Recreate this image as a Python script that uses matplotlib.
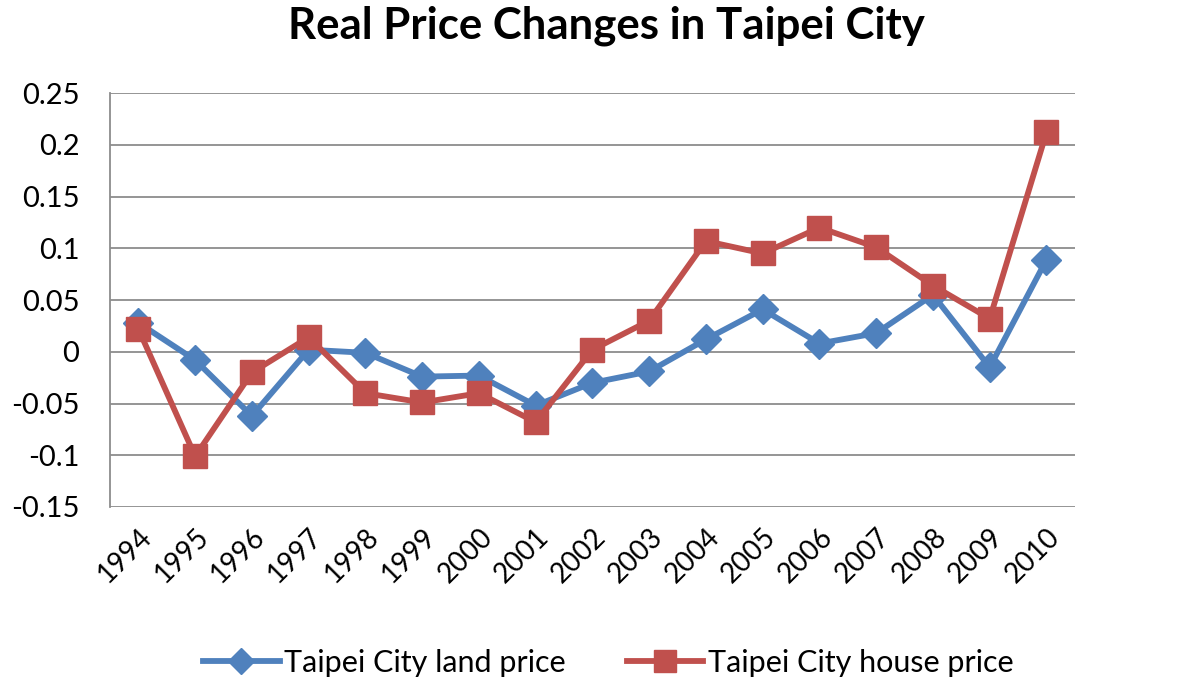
import matplotlib
matplotlib.use("Agg")
import matplotlib.pyplot as plt
from matplotlib.lines import Line2D

years = ["1994", "1995", "1996", "1997", "1998", "1999", "2000", "2001", "2002",
         "2003", "2004", "2005", "2006", "2007", "2008", "2009", "2010"]
land_price = [0.028, -0.008, -0.062, 0.002, -0.001, -0.024, -0.023, -0.052, -0.030,
              -0.019, 0.012, 0.041, 0.008, 0.018, 0.055, -0.015, 0.089]
house_price = [0.022, -0.101, -0.020, 0.014, -0.040, -0.049, -0.040, -0.068, 0.002,
               0.030, 0.107, 0.095, 0.120, 0.101, 0.064, 0.032, 0.212]
y_ticks = [-0.15, -0.1, -0.05, 0, 0.05, 0.1, 0.15, 0.2, 0.25]
y_labels = ["-0.15", "-0.1", "-0.05", "0", "0.05", "0.1", "0.15", "0.2", "0.25"]

plt.rcParams['font.family'] = ['Lato', 'DejaVu Sans']

fig = plt.figure(figsize=(12, 6.83), dpi=100)
ax = fig.add_axes([0.0917, 0.2577, 0.804, 0.606])

blue = "#4F81BD"
red = "#C0504D"
x = list(range(len(years)))

ax.plot(x, land_price, color=blue, lw=4.2, marker="D", ms=15, mec=blue, mfc=blue,
        label="Taipei City land price", zorder=3)
ax.plot(x, house_price, color=red, lw=4.2, marker="s", ms=17.5, mec=red, mfc=red,
        label="Taipei City house price", zorder=4)

ax.set_xlim(-0.5, len(years) - 0.5)
ax.set_ylim(-0.15, 0.25)
ax.set_yticks(y_ticks)
ax.set_yticklabels(y_labels, fontsize=21)
ax.set_xticks(x)
ax.set_xticklabels(years, rotation=45, ha="right", rotation_mode="anchor", fontsize=20)
ax.tick_params(axis="y", length=0, pad=22)
ax.tick_params(axis="x", length=0, pad=12)

ax.grid(axis="y", color="#8C8C8C", lw=1.3)
ax.set_axisbelow(True)
for s in ["top", "right", "bottom"]:
    ax.spines[s].set_visible(False)
ax.spines["left"].set_color("#8C8C8C")
ax.spines["left"].set_linewidth(1.3)

fig.text(0.505, 0.962, "Real Price Changes in Taipei City", ha="center", va="center",
         fontsize=31.5, fontweight="bold")

handles = [Line2D([0], [0], color=blue, lw=4.2, marker="D", ms=13),
           Line2D([0], [0], color=red, lw=4.2, marker="s", ms=16)]
fig.legend(handles, ["Taipei City land price", "Taipei City house price"],
           loc="center", bbox_to_anchor=(0.507, 0.03), ncol=2, frameon=False,
           fontsize=22, handlelength=2.5, columnspacing=2.0, handletextpad=0.15)

fig.savefig("out.png", dpi=100)
